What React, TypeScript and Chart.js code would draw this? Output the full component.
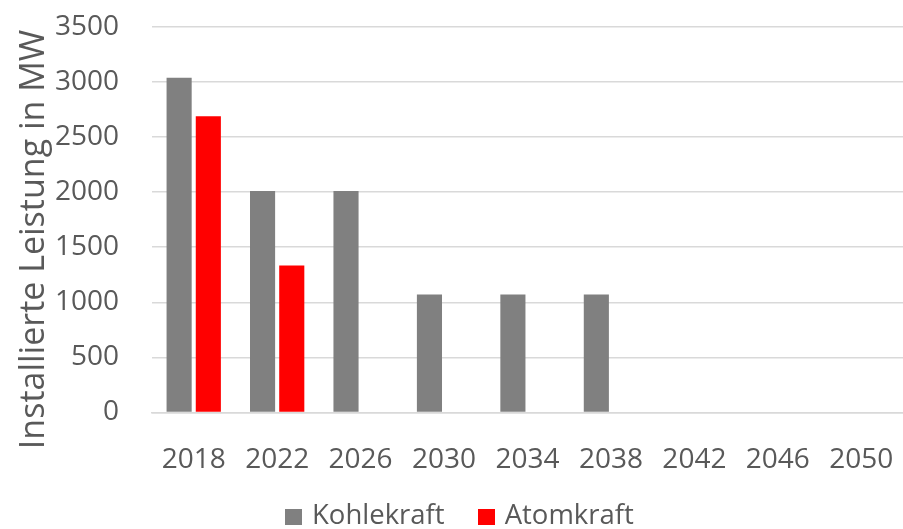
import React, { useEffect, useRef } from "react";
import { Chart, registerables } from "chart.js";

Chart.register(...registerables);

const categories = ["2018", "2022", "2026", "2030", "2034", "2038", "2042", "2046", "2050"];
const kohlekraft = [3040, 2010, 2010, 1070, 1070, 1070, 0, 0, 0];
const atomkraft = [2690, 1335, 0, 0, 0, 0, 0, 0, 0];
const yTicks = [0, 500, 1000, 1500, 2000, 2500, 3000, 3500];
const seriesNames = ["Kohlekraft", "Atomkraft"];
const seriesColors = ["#808080", "#ff0000"];
const yTitle = "Installierte Leistung in MW";

const FONT = "'Open Sans', 'Liberation Sans', sans-serif";
const TEXT = "#595959";

const yTitlePlugin = {
  id: "yTitlePlugin",
  afterDraw(chart: any) {
    const ctx = chart.ctx;
    ctx.save();
    ctx.translate(44, 239.5);
    ctx.rotate(-Math.PI / 2);
    ctx.fillStyle = TEXT;
    ctx.font = `34px ${FONT}`;
    ctx.textAlign = "center";
    ctx.textBaseline = "alphabetic";
    ctx.fillText(yTitle, 0, 0);
    ctx.restore();
  },
};

export default function App() {
  const ref = useRef<HTMLCanvasElement | null>(null);
  useEffect(() => {
    if (!ref.current) return;
    const chart = new Chart(ref.current, {
      type: "bar",
      data: {
        labels: categories,
        datasets: [
          { label: seriesNames[0], data: kohlekraft, backgroundColor: seriesColors[0], borderWidth: 0 },
          { label: seriesNames[1], data: atomkraft, backgroundColor: seriesColors[1], borderWidth: 0 },
        ],
      },
      plugins: [yTitlePlugin],
      options: {
        animation: false,
        responsive: false,
        maintainAspectRatio: false,
        datasets: { bar: { categoryPercentage: 0.7, barPercentage: 0.86 } },
        layout: { padding: { top: 0, right: 0, bottom: 21, left: 8 } },
        plugins: {
          tooltip: { enabled: false },
          legend: { display: false },
        },
        scales: {
          x: {
            grid: { display: false, drawTicks: false },
            border: { color: "#d9d9d9", width: 1.5 },
            ticks: { color: TEXT, font: { family: FONT, size: 28 }, padding: 31, maxRotation: 0 },
            afterFit: (axis: any) => {
              axis.paddingLeft = 0;
              axis.paddingRight = 0;
            },
          },
          y: {
            min: 0,
            max: 3500,
            afterBuildTicks: (axis: any) => {
              axis.ticks = yTicks.map((v) => ({ value: v }));
            },
            grid: { color: "#d9d9d9", lineWidth: 1.5, drawTicks: false },
            border: { display: false },
            ticks: {
              color: TEXT,
              font: { family: FONT, size: 28 },
              padding: 33,
              callback: (v: any) => String(v),
            },
            afterFit: (axis: any) => {
              axis.width = 144;
              axis.paddingTop = 27;
              axis.paddingBottom = 0;
            },
          },
        },
      },
    });
    return () => chart.destroy();
  }, []);
  return (
    <div style={{ position: "fixed", left: 0, top: 0, width: 903, height: 529, background: "#fff" }}>
      <canvas ref={ref} width={903} height={529} style={{ display: "block" }} />
      <div
        style={{
          position: "absolute",
          left: 285,
          top: 500,
          display: "flex",
          alignItems: "flex-start",
          fontFamily: FONT,
          fontSize: 27.5,
          lineHeight: "28px",
          color: TEXT,
          whiteSpace: "nowrap",
        }}
      >
        {seriesNames.map((name, i) => (
          <div key={name} style={{ display: "flex", alignItems: "flex-start", marginRight: i === 0 ? 33 : 0 }}>
            <span style={{ display: "block", width: 17, height: 16, marginTop: 9, marginRight: 10, background: seriesColors[i] }} />
            <span>{name}</span>
          </div>
        ))}
      </div>
    </div>
  );
}
